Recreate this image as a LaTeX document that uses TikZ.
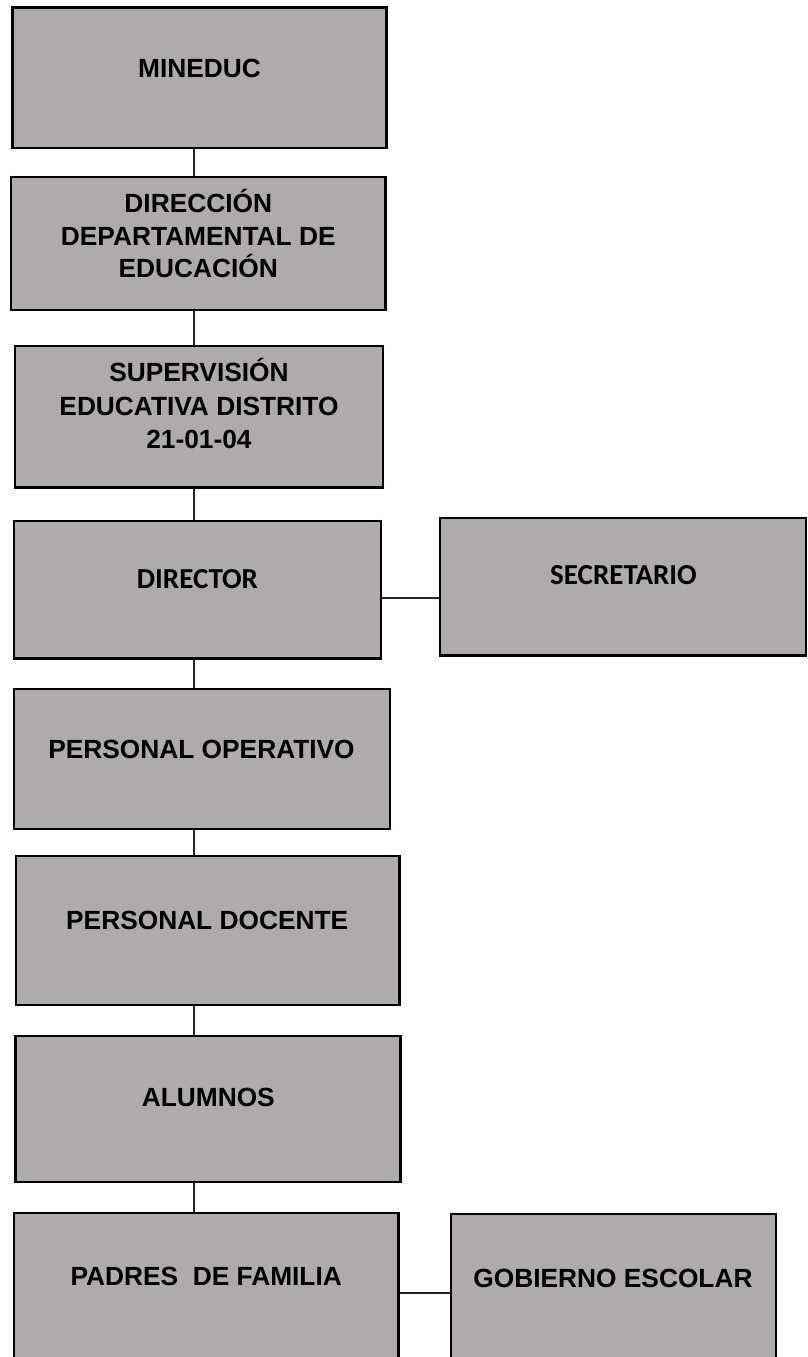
\documentclass[tikz,border=0pt]{standalone}
\usepackage{fontspec}
\setmainfont{Liberation Sans}
\newfontfamily\calib{Carlito}
\definecolor{boxgray}{RGB}{175,171,171}
\tikzset{
  orgbox/.style={draw=black, line width=2.4pt, fill=boxgray, rectangle, inner sep=0pt},
  arialtxt/.style={font=\fontsize{26.3}{33}\selectfont\bfseries, align=center, inner sep=0pt, anchor=base},
  calibtxt/.style={font=\calib\fontsize{29}{34}\selectfont\bfseries, align=center, inner sep=0pt, anchor=base},
  link/.style={draw=black!85, line width=1.2pt}
}
\begin{document}
\begin{tikzpicture}[x=1pt, y=-1pt]
  \useasboundingbox (0,0) rectangle (807,1357);
  \clip (0,0) rectangle (807,1357);

  % boxes of the chain
  \node (b1) [orgbox, minimum width=374pt, minimum height=140.5pt] at (199.5,77.75) {};
  \node (b2) [orgbox, minimum width=374.5pt, minimum height=133pt] at (198.25,243.5) {};
  \node (b3) [orgbox, minimum width=368pt, minimum height=141.5pt] at (199,416.75) {};
  \node (b4) [orgbox, minimum width=367pt, minimum height=137.5pt] at (197.5,589.75) {};
  \node (sec) [orgbox, minimum width=366pt, minimum height=137.5pt] at (623,586.75) {};
  \node (b5) [orgbox, minimum width=376pt, minimum height=140pt] at (202,759) {};
  \node (b6) [orgbox, minimum width=383.5pt, minimum height=149pt] at (207.75,930.5) {};
  \node (b7) [orgbox, minimum width=385pt, minimum height=146pt] at (208,1109) {};
  \node (b8) [orgbox, minimum width=384.5pt, minimum height=207pt] at (206.25,1316.5) {};
  \node (gob) [orgbox, minimum width=325pt, minimum height=206pt] at (613.5,1317) {};

  % labels (multi-line labels are placed by the baseline of their last line)
  \node (t1) [arialtxt] at (199.5,77.3) {MINEDUC};
  \node (t2) [arialtxt, font=\fontsize{26.3}{32.3}\selectfont\bfseries] at (198.25,277.3) {DIRECCIÓN\\DEPARTAMENTAL DE\\EDUCACIÓN};
  \node (t3) [arialtxt, font=\fontsize{26.3}{33.3}\selectfont\bfseries] at (199,448.3) {SUPERVISIÓN\\EDUCATIVA DISTRITO\\21-01-04};
  \node (t4) [calibtxt] at (197.5,588.3) {DIRECTOR};
  \node (tsec) [calibtxt] at (623.5,584) {SECRETARIO};
  \node (t5) [arialtxt] at (201.5,758.3) {PERSONAL OPERATIVO};
  \node (t6) [arialtxt] at (207.2,929) {PERSONAL DOCENTE};
  \node (t7) [arialtxt] at (208.3,1106.7) {ALUMNOS};
  \node (t8) [arialtxt] at (206.2,1285) {PADRES\ \ DE FAMILIA};
  \node (tgob) [arialtxt] at (613,1287.3) {GOBIERNO ESCOLAR};

  % connectors
  \coordinate (spine) at (194,0);
  \coordinate (h1) at (0,598);
  \coordinate (h2) at (0,1293);
  \draw[link] (b1.south -| spine) -- (b2.north -| spine);
  \draw[link] (b2.south -| spine) -- (b3.north -| spine);
  \draw[link] (b3.south -| spine) -- (b4.north -| spine);
  \draw[link] (b4.south -| spine) -- (b5.north -| spine);
  \draw[link] (b5.south -| spine) -- (b6.north -| spine);
  \draw[link] (b6.south -| spine) -- (b7.north -| spine);
  \draw[link] (b7.south -| spine) -- (b8.north -| spine);
  \draw[link] (b4.east |- h1) -- (sec.west |- h1);
  \draw[link] (b8.east |- h2) -- (gob.west |- h2);
\end{tikzpicture}
\end{document}
